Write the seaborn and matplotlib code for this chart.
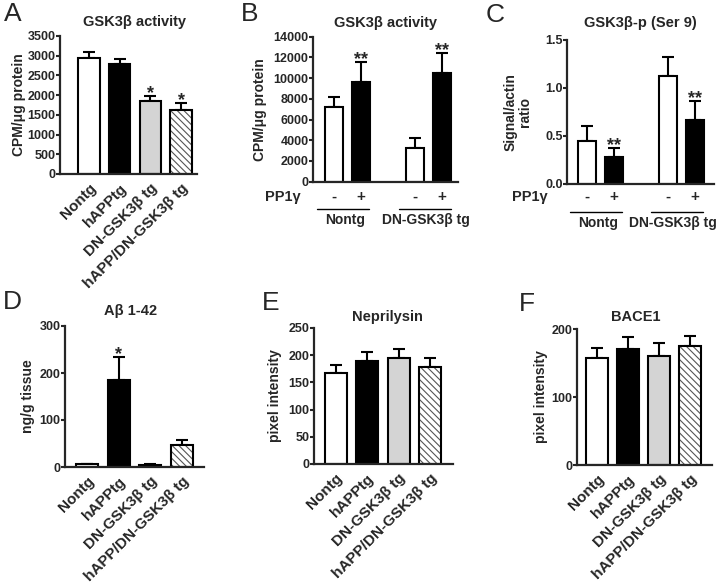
import matplotlib
matplotlib.use("Agg")
import matplotlib.pyplot as plt
import numpy as np
import seaborn as sns

sns.set_style("ticks")
plt.rcParams['font.family'] = ['Liberation Sans', 'DejaVu Sans']
plt.rcParams['font.weight'] = 'bold'
plt.rcParams['axes.titleweight'] = 'bold'
plt.rcParams['axes.labelweight'] = 'bold'
plt.rcParams['hatch.linewidth'] = 0.8

# --- data ---
groups = ["Nontg", "hAPPtg", "DN-GSK3β tg", "hAPP/DN-GSK3β tg"]
group_colors = ["white", "black", "#d4d4d4", "white"]

gsk_activity = [2950, 2780, 1860, 1625]
gsk_activity_err = [140, 130, 130, 185]
gsk_activity_stars = ["", "", "*", "*"]

pp1_groups = ["Nontg", "Nontg", "DN-GSK3β tg", "DN-GSK3β tg"]
pp1_levels = ["-", "+", "-", "+"]
pp1_activity = [7240, 9590, 3220, 10460]
pp1_activity_err = [970, 1930, 1000, 1930]
pp1_activity_stars = ["", "**", "", "**"]

ser9_ratio = [0.45, 0.285, 1.125, 0.667]
ser9_ratio_err = [0.153, 0.094, 0.20, 0.198]
ser9_stars = ["", "**", "", "**"]

abeta = [5.5, 186, 5, 46]
abeta_err = [1, 48, 1, 11]
abeta_stars = ["", "*", "", ""]

neprilysin = [167, 189, 195, 179]
neprilysin_err = [15, 17, 17, 15]

bace1 = [157, 170, 161, 175]
bace1_err = [15, 18, 18, 15]

W, H = 720, 583
fig = plt.figure(figsize=(7.2, 5.83), dpi=100)


def px_axes(l, t, r, b):
    return fig.add_axes([l / W, 1 - b / H, (r - l) / W, (b - t) / H])


def style_axes(ax, ymax, ystep, fmt="{:.0f}"):
    sns.despine(ax=ax)
    for s in ['left', 'bottom']:
        ax.spines[s].set_linewidth(1.6)
    ticks = np.arange(0, ymax + ystep / 2, ystep)
    ax.set_ylim(0, ymax)
    ax.set_yticks(ticks)
    ax.set_yticklabels([fmt.format(t) for t in ticks], fontweight='bold', fontsize=9)
    ax.tick_params(axis='y', length=2.6, width=1.5, pad=0.6)
    ax.tick_params(axis='x', length=0)
    ax.set_xlabel("")


def add_err_stars(ax, xs, vals, errs, stars):
    ax.errorbar(xs, vals, yerr=[np.zeros(len(vals)), errs], fmt='none', ecolor='black',
                elinewidth=1.5, capsize=4, capthick=1.5, zorder=1)
    for x, v, e, s in zip(xs, vals, errs, stars):
        if s:
            ax.annotate(s, (x, v + e), xytext=(0, -1.5), textcoords='offset points',
                        ha='center', va='baseline', fontsize=13)


def group_bars(ax, vals, errs, stars, xlim):
    sns.barplot(x=groups, y=vals, hue=groups, palette=group_colors, saturation=1,
                legend=False, width=0.7, edgecolor='black', linewidth=1.5,
                errorbar=None, ax=ax, zorder=2)
    bars = sorted(ax.patches, key=lambda p: p.get_x())
    hb = bars[3]
    hb.set_hatch('\\\\\\\\\\')
    if hasattr(hb, 'set_hatchcolor'):
        hb.set_hatchcolor('#555555')
    else:
        hb._hatch_color = matplotlib.colors.to_rgba('#555555')
    add_err_stars(ax, range(4), vals, errs, stars)
    ax.set_xlim(*xlim)
    ax.set_xticks(range(4))
    ax.set_xticklabels(groups, rotation=45, ha='right', rotation_mode='anchor',
                       fontsize=11, fontweight='bold')
    ax.tick_params(axis='x', pad=5)


def pp1_bars(ax, vals, errs, stars, xlim, y_sign, y_line, y_lab, lab_shift):
    sns.barplot(x=pp1_groups, y=vals, hue=pp1_levels, hue_order=['-', '+'],
                palette=['white', 'black'], saturation=1, legend=False, width=0.667,
                gap=0.333, edgecolor='black', linewidth=1.5, errorbar=None, ax=ax, zorder=2)
    xs = sorted(p.get_x() + p.get_width() / 2 for p in ax.patches)
    add_err_stars(ax, xs, vals, errs, stars)
    ax.set_xlim(*xlim)
    ax.set_xticks([])
    tr = ax.get_xaxis_transform()
    for x, lv in zip(xs, pp1_levels):
        ax.text(x, y_sign, lv, transform=tr, ha='center', va='center', fontsize=11)
    for i, name in enumerate(["Nontg", "DN-GSK3β tg"]):
        c = (xs[2 * i] + xs[2 * i + 1]) / 2
        ax.plot([c - 0.37, c + 0.27], [y_line, y_line], transform=tr, clip_on=False,
                color='black', lw=1)
        ax.text(c + lab_shift[i], y_lab, name, transform=tr, ha='center', va='center',
                fontsize=10)


# A
axA = px_axes(60, 36, 197, 174)
group_bars(axA, gsk_activity, gsk_activity_err, gsk_activity_stars, (-0.94, 3.52))
style_axes(axA, 3500, 500)
axA.set_ylabel("CPM/μg protein", fontsize=10)
axA.yaxis.set_label_coords(-0.25, 0.5)
axA.set_title("GSK3β activity", fontsize=10.5, x=0.545, pad=7)

# B
axB = px_axes(313, 36.7, 458, 181.7)
pp1_bars(axB, pp1_activity, pp1_activity_err, pp1_activity_stars, (-0.42, 1.36),
         -0.106, -0.188, -0.264, (-0.03, -0.03))
style_axes(axB, 14000, 2000)
axB.set_ylabel("CPM/μg protein", fontsize=10)
axB.yaxis.set_label_coords(-0.317, 0.5)
axB.set_title("GSK3β activity", fontsize=10.5, pad=7)
fig.text(283 / W, 1 - 197 / H, "PP1γ", ha='center', va='center', fontsize=10.5)

# C
axC = px_axes(567, 40, 714, 184)
pp1_bars(axC, ser9_ratio, ser9_ratio_err, ser9_stars, (-0.41, 1.40),
         -0.088, -0.192, -0.269, (-0.03, -0.11))
style_axes(axC, 1.5, 0.5, fmt="{:.1f}")
axC.set_ylabel("Signal/actin\nratio", fontsize=10, linespacing=1.0)
axC.yaxis.set_label_coords(-0.238, 0.5)
axC.set_title("GSK3β-p (Ser 9)", fontsize=10.5, pad=9)
fig.text(530 / W, 1 - 197 / H, "PP1γ", ha='center', va='center', fontsize=10.5)

# D
axD = px_axes(65, 326, 204, 467)
group_bars(axD, abeta, abeta_err, abeta_stars, (-0.71, 3.70))
style_axes(axD, 300, 100)
axD.set_ylabel("ng/g tissue", fontsize=10)
axD.yaxis.set_label_coords(-0.216, 0.5)
axD.set_title("Aβ 1-42", fontsize=10.5, x=0.475, pad=8)

# E
axE = px_axes(314, 328, 453, 464)
group_bars(axE, neprilysin, neprilysin_err, ["", "", "", ""], (-0.69, 3.73))
style_axes(axE, 250, 50)
axE.set_ylabel("pixel intensity", fontsize=10)
axE.yaxis.set_label_coords(-0.23, 0.5)
axE.set_title("Neprilysin", fontsize=10.5, x=0.53, pad=5)

# F
axF = px_axes(577, 329, 712, 465)
group_bars(axF, bace1, bace1_err, ["", "", "", ""], (-0.64, 3.71))
style_axes(axF, 200, 100)
axF.set_ylabel("pixel intensity", fontsize=10)
axF.yaxis.set_label_coords(-0.215, 0.5)
axF.set_title("BACE1", fontsize=10.5, x=0.437, pad=6)

for letter, x, y in [("A", 4, 14), ("B", 241, 14), ("C", 486, 15),
                     ("D", 3, 302), ("E", 262, 303), ("F", 519, 304)]:
    fig.text(x / W, 1 - y / H, letter, fontsize=19, fontweight='normal', va='center')

fig.savefig("out.png", dpi=100)
